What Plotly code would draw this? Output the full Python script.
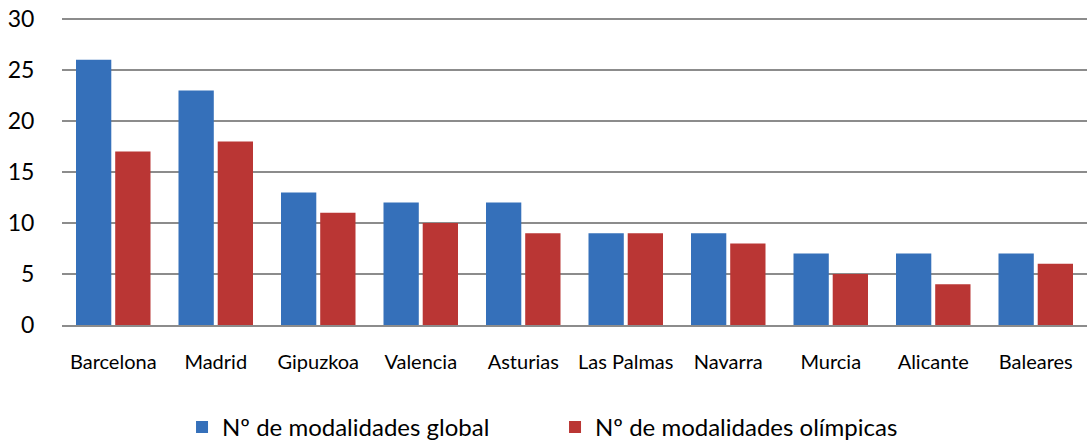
import plotly.graph_objects as go

categories = ["Barcelona", "Madrid", "Gipuzkoa", "Valencia", "Asturias",
              "Las Palmas", "Navarra", "Murcia", "Alicante", "Baleares"]
global_vals = [26, 23, 13, 12, 12, 9, 9, 7, 7, 7]
olimpicas_vals = [17, 18, 11, 10, 9, 9, 8, 5, 4, 6]
y_ticks = [0, 5, 10, 15, 20, 25, 30]

FONT = "Lato, 'Open Sans', sans-serif"

fig = go.Figure()
fig.add_trace(go.Bar(
    x=categories, y=global_vals, name="Nº de modalidades global",
    marker=dict(color="#3570ba", line=dict(width=0)),
))
fig.add_trace(go.Bar(
    x=categories, y=olimpicas_vals, name="Nº de modalidades olímpicas",
    marker=dict(color="#ba3634", line=dict(width=0)),
))

fig.update_layout(
    width=1089, height=441,
    margin=dict(l=62, r=2, t=18, b=116, autoexpand=False),
    paper_bgcolor="white", plot_bgcolor="white",
    barmode="group", bargap=0.235, bargroupgap=0.1,
    font=dict(family=FONT, color="#000000"),
    legend=dict(orientation="h", x=0.481, xanchor="center", y=-0.26, yanchor="top",
                font=dict(size=24, family=FONT), itemwidth=30,
                traceorder="normal", entrywidth=328),
    showlegend=True,
)
fig.update_yaxes(
    range=[0, 30.1], tickvals=y_ticks, showgrid=True, gridcolor="#8c8c8c", gridwidth=1.5,
    zeroline=False, showline=False, tickfont=dict(size=23, family=FONT),
    ticks="outside", tickcolor="rgba(0,0,0,0)", ticklen=22, automargin=False,
)
fig.update_xaxes(
    showline=True, linecolor="#8c8c8c", linewidth=1.5,
    tickfont=dict(size=20, family=FONT), automargin=False,
    ticks="outside", tickcolor="rgba(0,0,0,0)", ticklen=18,
)

fig.write_html(
    "out.html",
    config={"displayModeBar": False},
    post_script="document.body.style.margin='0';document.body.style.overflow='hidden';",
)
